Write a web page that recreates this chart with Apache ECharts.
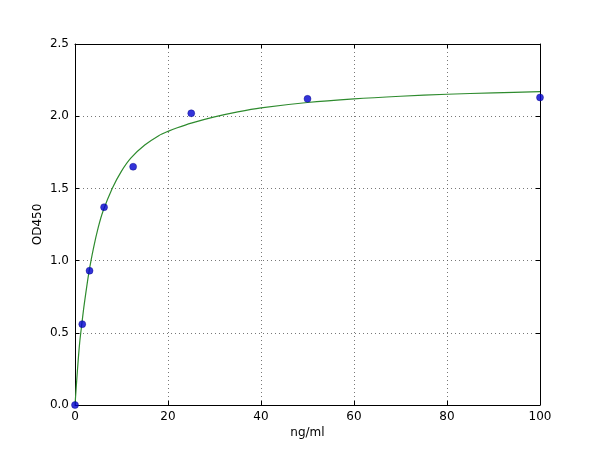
<!DOCTYPE html>
<html lang="en">
<head>
    <meta http-equiv="Content-Type" content="text/html; charset=utf-8"/>
    <title>OD450 standard curve</title>
    <script src="https://cdn.jsdelivr.net/npm/echarts@6/dist/echarts.min.js"></script>
    <style type="text/css">
        html, body { height:100%; margin:0; background:#fff; }
        #main_1 { width:600px; height:450px; }
    </style>
</head>
<body>
<div id="main_1"></div>
<script>
    // measured standards
    var concX = [0, 1.56, 3.125, 6.25, 12.5, 25, 50, 100];
    var odY   = [0, 0.56, 0.93, 1.37, 1.65, 2.02, 2.12, 2.13];

    // fitted curve
    var fitX = [0, 0.5, 1, 1.5, 2, 3, 4, 5, 6, 8, 10, 12, 15, 18, 20, 22, 25, 30, 35, 40, 50, 60, 70, 80, 90, 100];
    var fitY = [0, 0.23, 0.43, 0.57, 0.70, 0.92, 1.09, 1.23, 1.34, 1.50, 1.62, 1.71, 1.80, 1.865, 1.895, 1.92, 1.952, 1.995, 2.03, 2.058, 2.095, 2.12, 2.138, 2.152, 2.162, 2.17];

    var font = 'DejaVu Sans';

    function pairs(xs, ys) {
        var out = [];
        for (var i = 0; i < xs.length; i++) out.push([xs[i], ys[i]]);
        return out;
    }

    var myChart = echarts.init(document.getElementById('main_1'));

    var baseX = {
        type: 'value', min: 0, max: 100, interval: 20,
        axisLine: {show: true, onZero: false, lineStyle: {color: '#000', width: 1}},
        axisTick: {show: true, inside: true, length: 4, lineStyle: {color: '#000'}},
        splitLine: {show: false}
    };
    var baseY = {
        type: 'value', min: 0, max: 2.5, interval: 0.5,
        axisLine: {show: true, onZero: false, lineStyle: {color: '#000', width: 1}},
        axisTick: {show: true, inside: true, length: 4, lineStyle: {color: '#000'}},
        splitLine: {show: false}
    };

    var option = {
        animation: false,
        grid: {left: 75, right: 60, top: 44, bottom: 45},
        xAxis: [
            echarts.util.merge({
                position: 'bottom',
                name: 'ng/ml', nameLocation: 'middle', nameGap: 22, nameMoveOverlap: false,
                nameTextStyle: {fontFamily: font, fontSize: 12, color: '#000'},
                axisLabel: {fontFamily: font, fontSize: 12, color: '#000', margin: 6},
                splitLine: {show: true, lineStyle: {color: '#555', type: [1, 3], width: 0.8}}
            }, baseX, false),
            echarts.util.merge({position: 'top', axisLabel: {show: false}}, baseX, false)
        ],
        yAxis: [
            echarts.util.merge({
                position: 'left',
                name: 'OD450', nameLocation: 'middle', nameGap: 31, nameMoveOverlap: false,
                nameTextStyle: {fontFamily: font, fontSize: 12, color: '#000'},
                axisLabel: {fontFamily: font, fontSize: 12, color: '#000', margin: 6,
                    formatter: function (v) { return v.toFixed(1); }},
                splitLine: {show: true, lineStyle: {color: '#555', type: [1, 3], width: 0.8}}
            }, baseY, false),
            echarts.util.merge({position: 'right', axisLabel: {show: false}}, baseY, false)
        ],
        series: [
            {
                type: 'line',
                data: pairs(fitX, fitY),
                smooth: 0.3,
                showSymbol: false,
                lineStyle: {color: '#2e8b2e', width: 1.2},
                z: 2
            },
            {
                type: 'scatter',
                data: pairs(concX, odY),
                symbolSize: 7,
                itemStyle: {color: '#0000d0', borderColor: '#000080', borderWidth: 0.5},
                z: 3
            }
        ]
    };

    myChart.setOption(option);
</script>
</body>
</html>
